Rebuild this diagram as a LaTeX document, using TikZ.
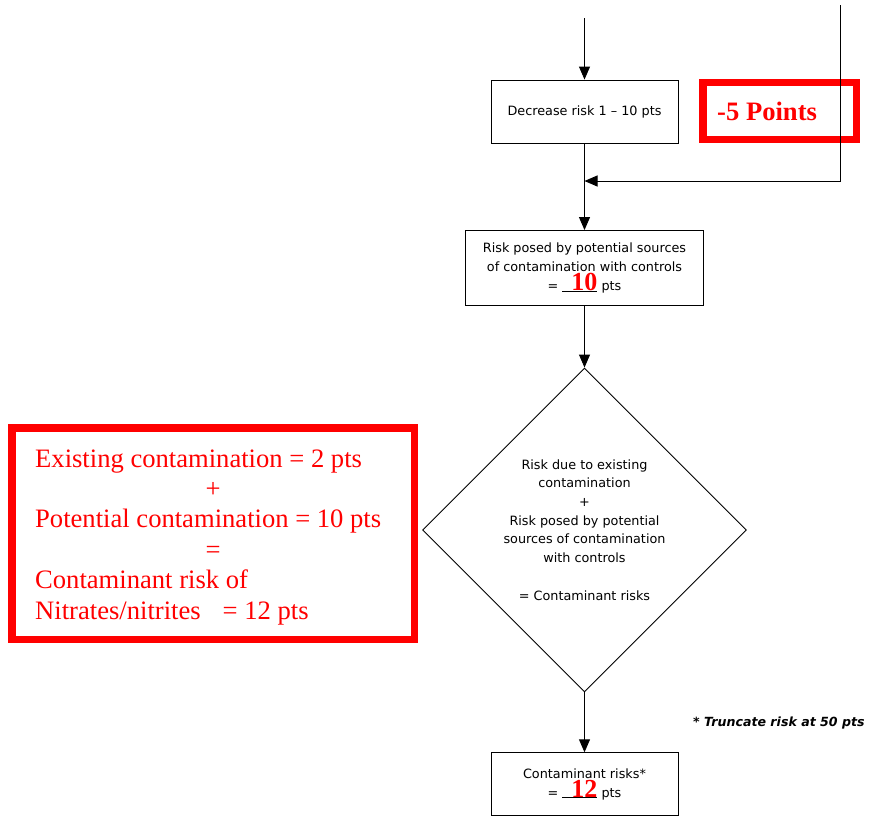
\documentclass[tikz,border=0pt]{standalone}
\usepackage{fontspec}
\setmainfont{DejaVu Sans}
\newfontfamily\serf{Liberation Serif}
\usetikzlibrary{shapes.geometric,arrows.meta}
\definecolor{pured}{RGB}{255,0,0}
\newcommand{\rednum}[1]{\rlap{\rule[-0.6pt]{35pt}{0.8pt}}\makebox[35pt][r]{\smash{\textcolor{pured}{\serf\bfseries\fontsize{26}{26}\selectfont #1}}}}
\begin{document}
\begin{tikzpicture}[x=1pt,y=-1pt,
  box/.style={draw=black, line width=0.9pt, inner sep=0pt, font=\fontsize{12.8}{19.2}\selectfont, align=center},
  flow/.style={draw=black, line width=0.9pt, -{Triangle[length=13pt,width=11pt]}},
  redframe/.style={draw=pured, line width=7.5pt, inner sep=0pt},
  redtxt/.style={text=pured, font=\serf\fontsize{26.6}{30.4}\selectfont, inner sep=0pt}]
\useasboundingbox (0,0) rectangle (878,820);

% boxes
\node[box, minimum width=187pt, minimum height=63pt] (dec) at (584.5,111.5) {Decrease risk 1 – 10 pts};
\node[box, minimum width=238pt, minimum height=75pt] (pot) at (584.5,268)
  {Risk posed by potential sources\\of contamination with controls\\= \rednum{10} pts};
\node[box, shape=diamond, aspect=1, minimum width=324pt, minimum height=324pt, font=\fontsize{12.8}{18.6}\selectfont] (dia) at (584.5,530)
  {Risk due to existing\\contamination\\+\\Risk posed by potential\\sources of contamination\\with controls\\[19.5pt]= Contaminant risks};
\node[box, minimum width=187pt, minimum height=62.5pt, font=\fontsize{12.8}{19}\selectfont] (res) at (584.5,784)
  {Contaminant risks*\\= \rednum{12} pts};

% red annotation frames
\node[redframe, minimum width=153.5pt, minimum height=57pt] (m5box) at (779.75,111) {};
\node[redtxt, font=\serf\bfseries\fontsize{26.6}{30.4}\selectfont, anchor=base west] (m5) at (717,120.7) {-5 Points};

\node[redframe, minimum width=402.5pt, minimum height=211.5pt] (sumbox) at (213.25,533.75) {};
\node[redtxt, align=left, anchor=base west] (sum) at (35,619)
  {Existing contamination = 2 pts\\
   \hspace*{170.5pt}+\\
   Potential contamination = 10 pts\\
   \hspace*{170.5pt}=\\
   Contaminant risk of\\
   Nitrates/nitrites\hspace*{22pt}= 12 pts};

% note
\node[font=\bfseries\itshape\fontsize{12.6}{15}\selectfont, anchor=base west, inner sep=0pt] (note) at (693,726) {* Truncate risk at 50 pts};

% connectors
\coordinate (top) at (584.5,18);
\coordinate (rtop) at (840,5);
\coordinate (rcorner) at (840,181);
\coordinate (merge) at (584.5,181);
\draw[flow] (top) -- (dec.north);
\draw[flow] (dec.south) -- (pot.north);
\draw[flow] (rtop) -- (rcorner) -- (merge);
\draw[flow] (pot.south) -- (dia.north);
\draw[flow] (dia.south) -- (res.north);
\end{tikzpicture}
\end{document}
